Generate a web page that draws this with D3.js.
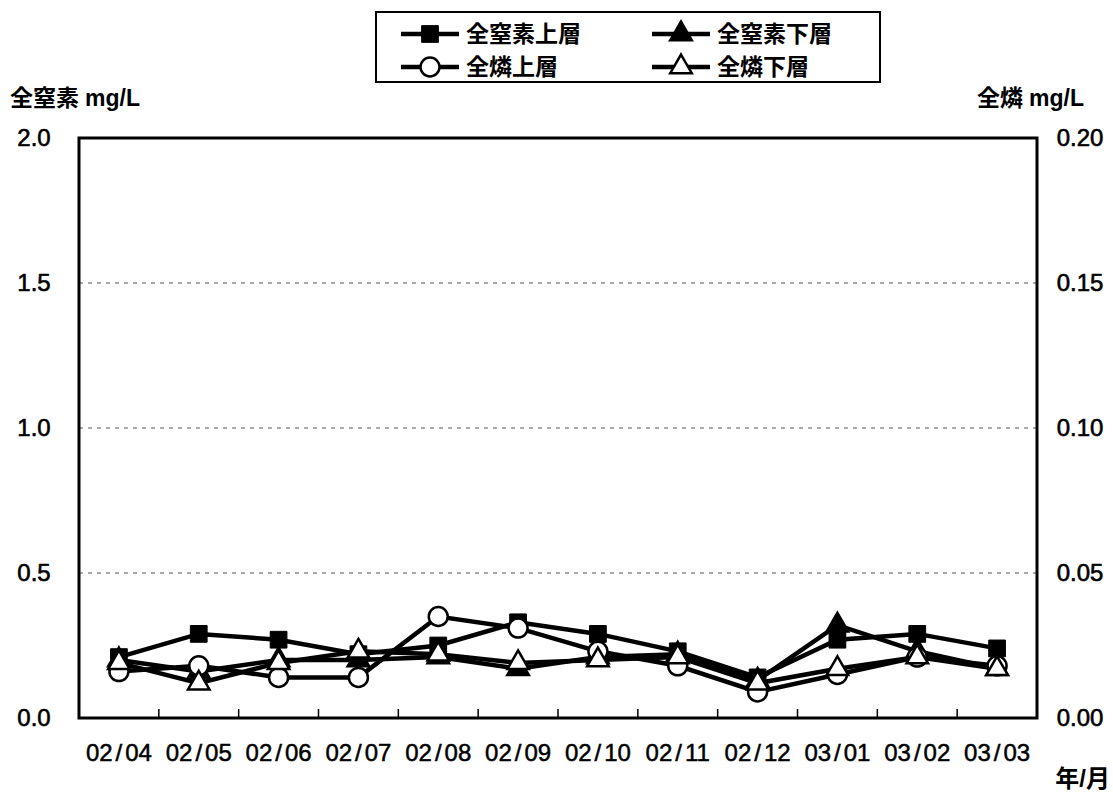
<!DOCTYPE html>
<html>
<head>
<meta charset="utf-8">
<script src="https://cdn.jsdelivr.net/npm/d3@7"></script>
<style>
  body { margin: 0; background: #fff; }
  svg text { font-family: "Liberation Sans", "Noto Sans CJK JP", sans-serif; fill: #000; }
</style>
</head>
<body>
<div id="chart"></div>
<script>
// data
var months = ["02/04", "02/05", "02/06", "02/07", "02/08", "02/09", "02/10", "02/11", "02/12", "03/01", "03/02", "03/03"];
var nUpper = [0.21, 0.29, 0.27, 0.22, 0.25, 0.33, 0.29, 0.23, 0.14, 0.27, 0.29, 0.24];
var nLower = [0.20, 0.16, 0.20, 0.20, 0.21, 0.17, 0.21, 0.22, 0.13, 0.32, 0.23, 0.17];
var pUpper = [0.016, 0.018, 0.014, 0.014, 0.035, 0.031, 0.023, 0.018, 0.009, 0.015, 0.021, 0.018];
var pLower = [0.019, 0.012, 0.019, 0.023, 0.022, 0.019, 0.020, 0.021, 0.012, 0.017, 0.021, 0.017];
var nTicks = [0, 0.5, 1.0, 1.5, 2.0];
var pTicks = [0, 0.05, 0.10, 0.15, 0.20];

var W = 1113, H = 794;
var margin = {top: 138, right: 76, bottom: 76, left: 79};
var width = W - margin.left - margin.right,
    height = H - margin.top - margin.bottom;

var svg = d3.select("#chart").append("svg")
    .attr("width", W)
    .attr("height", H);

var g = svg.append("g").attr("transform", "translate(" + margin.left + "," + margin.top + ")");

var x = d3.scaleBand().domain(months).range([0, width]).padding(0);
var yN = d3.scaleLinear().domain([0, 2]).range([height, 0]);
var yP = d3.scaleLinear().domain([0, 0.2]).range([height, 0]);
function cx(d, i) { return x(months[i]) + x.bandwidth() / 2; }

// grid lines
g.selectAll(".grid").data(nTicks.slice(1, 4)).enter().append("line")
    .attr("x1", 0).attr("x2", width)
    .attr("y1", function(d) { return yN(d); })
    .attr("y2", function(d) { return yN(d); })
    .attr("stroke", "#555")
    .attr("stroke-width", 1)
    .attr("stroke-dasharray", "4,5");

// x ticks at band edges (inside)
g.selectAll(".xtick").data(months.slice(1)).enter().append("line")
    .attr("x1", function(d) { return x(d); })
    .attr("x2", function(d) { return x(d); })
    .attr("y1", height).attr("y2", height - 9)
    .attr("stroke", "#000").attr("stroke-width", 1.5);

// frame
g.append("rect")
    .attr("width", width).attr("height", height)
    .attr("fill", "none").attr("stroke", "#000").attr("stroke-width", 3);

// left tick labels
g.selectAll(".ylab").data(nTicks).enter().append("text")
    .attr("x", -45).attr("y", function(d) { return yN(d); })
    .attr("dy", "0.35em")
    .attr("text-anchor", "middle")
    .attr("font-size", 24)
    .attr("stroke", "#000").attr("stroke-width", 0.6)
    .text(function(d) { return d3.format(".1f")(d); });

// right tick labels
g.selectAll(".plab").data(pTicks).enter().append("text")
    .attr("x", width + 43).attr("y", function(d) { return yP(d); })
    .attr("dy", "0.35em")
    .attr("text-anchor", "middle")
    .attr("font-size", 24)
    .attr("stroke", "#000").attr("stroke-width", 0.6)
    .text(function(d) { return d3.format(".2f")(d); });

// x labels, slash given extra room like the original
var xl = g.selectAll(".xlab").data(months).enter().append("text")
    .attr("x", function(d, i) { return cx(d, i); })
    .attr("y", height + 43)
    .attr("text-anchor", "middle")
    .attr("font-size", 24)
    .attr("stroke", "#000").attr("stroke-width", 0.5);
xl.append("tspan").text(function(d) { return d.split("/")[0]; });
xl.append("tspan").attr("dx", 3).text("/");
xl.append("tspan").attr("dx", 3).text(function(d) { return d.split("/")[1]; });

// axis titles
var t1 = svg.append("text").attr("x", 10).attr("y", 106)
    .attr("font-size", 23).attr("font-weight", 700);
t1.append("tspan").attr("font-family", "Noto Sans CJK JP").text("全窒素");
t1.append("tspan").attr("dx", 6).text("mg/L");
var t2 = svg.append("text").attr("x", 1084).attr("y", 106)
    .attr("text-anchor", "end")
    .attr("font-size", 23).attr("font-weight", 700);
t2.append("tspan").attr("font-family", "Noto Sans CJK JP").text("全燐");
t2.append("tspan").attr("dx", 6).text("mg/L");
svg.append("text").attr("x", 1110).attr("y", 787)
    .attr("text-anchor", "end")
    .attr("font-family", "Noto Sans CJK JP")
    .attr("font-size", 24).attr("font-weight", 700)
    .text("年/月");

// marker shapes
var sqSym = d3.symbol().type(d3.symbolSquare).size(280);
var triSym = d3.symbol().type(d3.symbolTriangle).size(200);

var series = [
    {name: "全窒素上層", values: nUpper, y: yN, shape: "square", fill: "#000"},
    {name: "全窒素下層", values: nLower, y: yN, shape: "triangle", fill: "#000"},
    {name: "全燐上層", values: pUpper, y: yP, shape: "circle", fill: "#fff"},
    {name: "全燐下層", values: pLower, y: yP, shape: "triangle", fill: "#fff"}
];

function drawMarker(sel, s) {
    if (s.shape === "circle") {
        sel.append("circle").attr("r", 9.5)
            .attr("fill", s.fill).attr("stroke", "#000").attr("stroke-width", 2.5);
    } else if (s.shape === "square") {
        sel.append("path").attr("d", sqSym)
            .attr("fill", s.fill).attr("stroke", "#000").attr("stroke-width", 1);
    } else {
        sel.append("path").attr("d", triSym)
            .attr("fill", s.fill).attr("stroke", "#000").attr("stroke-width", 2.5);
    }
}

series.forEach(function(s) {
    var line = d3.line()
        .x(function(d, i) { return cx(d, i); })
        .y(function(d) { return s.y(d); });
    g.append("path").datum(s.values)
        .attr("d", line)
        .attr("fill", "none")
        .attr("stroke", "#000")
        .attr("stroke-width", 4.5);
});

series.forEach(function(s) {
    s.values.forEach(function(v, i) {
        var m = g.append("g").attr("transform", "translate(" + cx(v, i) + "," + s.y(v) + ")");
        drawMarker(m, s);
    });
});

// legend
var lg = svg.append("g").attr("transform", "translate(376,12)");
lg.append("rect").attr("width", 504).attr("height", 70)
    .attr("fill", "#fff").attr("stroke", "#000").attr("stroke-width", 2);
series.forEach(function(s, i) {
    var col = i % 2, row = Math.floor(i / 2);
    var ix = 25 + col * 251, iy = 22 + row * 33;
    var item = lg.append("g").attr("transform", "translate(" + ix + "," + iy + ")");
    item.append("line").attr("x1", 0).attr("x2", 58).attr("y1", 0).attr("y2", 0)
        .attr("stroke", "#000").attr("stroke-width", 4.5);
    var m = item.append("g").attr("transform", "translate(29,0)");
    drawMarker(m, s);
    item.append("text").attr("x", 65).attr("y", 0).attr("dy", "0.36em")
        .attr("font-family", "Noto Sans CJK JP")
        .attr("font-size", 23).attr("font-weight", 700)
        .text(s.name);
});
</script>
</body>
</html>
